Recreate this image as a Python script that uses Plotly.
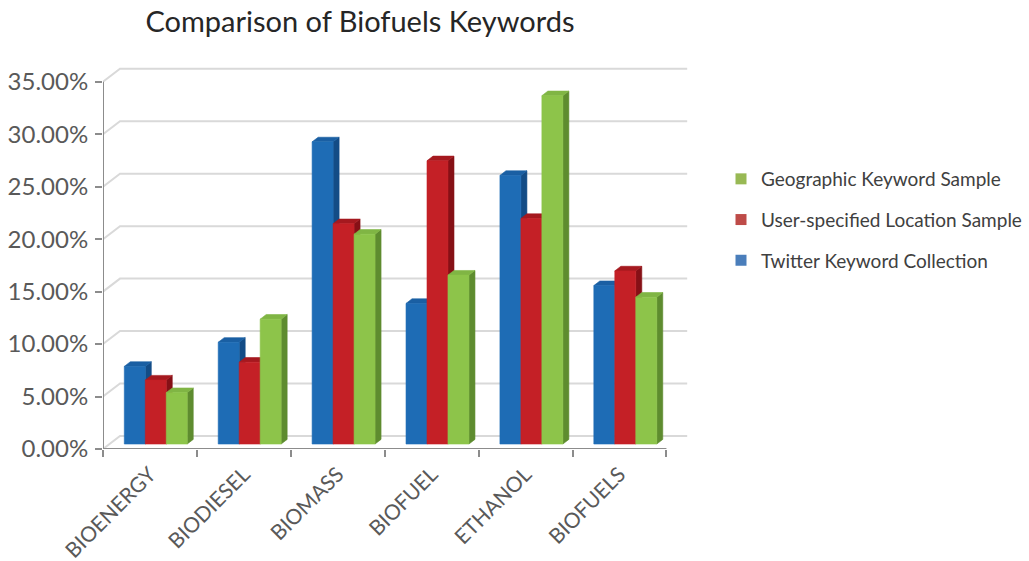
import plotly.graph_objects as go

# Keyword share per data collection (percent)
categories = ["BIOENERGY", "BIODIESEL", "BIOMASS", "BIOFUEL", "ETHANOL", "BIOFUELS"]
twitter_keyword = [7.4, 9.7, 28.8, 13.4, 25.6, 15.1]
user_location = [6.1, 7.8, 21.0, 27.0, 21.5, 16.5]
geographic_keyword = [4.9, 11.9, 20.0, 16.1, 33.2, 14.0]

series_names = ["Twitter Keyword Collection", "User-specified Location Sample", "Geographic Keyword Sample"]
y_ticks = [0, 5, 10, 15, 20, 25, 30, 35]

# face colours: front, top, side
palette = [
    ("#1e6cb5", "#1a5fa3", "#134c86"),
    ("#c42026", "#a5191f", "#861016"),
    ("#8dc44a", "#80b544", "#5e8c2f"),
]
legend_colors = ["#4a7ebb", "#be4b48", "#98b954"]

FONT = "Lato"
GREY = "#595959"

# oblique projection of the chart depth (category units, percent units)
WALL_DX, WALL_DY = 0.181, 1.24      # back wall offset
BAR_DX, BAR_DY = 0.062, 0.475       # bars sit part-way into the floor
SIDE_DX, SIDE_DY = 0.064, 0.44      # bar thickness in depth
BAR_W = 0.2234

n = len(categories)
fig = go.Figure()

# back wall gridlines with their diagonal run-in on the side wall
for v in y_ticks:
    fig.add_trace(go.Scatter(
        x=[-0.5, -0.5 + WALL_DX, n - 0.5 + WALL_DX + 0.04],
        y=[v, v + WALL_DY, v + WALL_DY],
        mode="lines", line=dict(color="#d9d9d9", width=2),
        hoverinfo="skip", showlegend=False))


def face(xs, ys, color):
    fig.add_trace(go.Scatter(
        x=xs + [xs[0]], y=ys + [ys[0]], mode="lines", fill="toself",
        fillcolor=color, line=dict(color=color, width=0.6),
        hoverinfo="skip", showlegend=False))


series = [twitter_keyword, user_location, geographic_keyword]
for i in range(n):
    for s, values in enumerate(series):
        front_c, top_c, side_c = palette[s]
        x0 = i + (s - 1.5) * BAR_W + BAR_DX
        x1 = x0 + BAR_W
        b = BAR_DY
        t = b + values[i]
        # side, top, then front so the neighbour on the right covers correctly
        face([x1, x1 + SIDE_DX, x1 + SIDE_DX, x1], [b, b + SIDE_DY, t + SIDE_DY, t], side_c)
        face([x0, x1, x1 + SIDE_DX, x0 + SIDE_DX], [t, t, t + SIDE_DY, t + SIDE_DY], top_c)
        face([x0, x1, x1, x0], [b, b, t, t], front_c)

# legend entries (listed top to bottom: green, red, blue)
for s in [2, 1, 0]:
    fig.add_trace(go.Scatter(
        x=[None], y=[None], mode="markers", name=series_names[s],
        legendgroup=series_names[s],
        marker=dict(symbol="square", size=11, color=legend_colors[s])))

axis_line = dict(color="#8c8c8c", width=2)
fig.add_shape(type="line", xref="x", yref="y", x0=-0.5, x1=-0.5, y0=0, y1=35, line=axis_line)
fig.add_shape(type="line", xref="x", yref="y", x0=-0.5, x1=n - 0.5, y0=0, y1=0, line=axis_line)

fig.update_layout(
    width=1029, height=561,
    margin=dict(l=103, r=339, t=65, b=112, autoexpand=False),
    paper_bgcolor="white", plot_bgcolor="white",
    font=dict(family=FONT, color=GREY),
    title=dict(text="Comparison of Biofuels Keywords", x=360 / 1029, xanchor="center",
               xref="container", y=1 - 22 / 561, yanchor="middle", yref="container",
               font=dict(family=FONT, size=29, color="#262626")),
    xaxis=dict(range=[-0.5, n - 0.5 + WALL_DX + 0.07], showgrid=False, zeroline=False,
               showline=False, tickvals=list(range(n)), ticktext=categories,
               tickangle=-45, ticks="", tickfont=dict(size=21, color=GREY),
               ticklabelstandoff=8, automargin=False,
               minor=dict(tickvals=[k - 0.5 for k in range(n + 1)], ticks="outside",
                          ticklen=7, tickwidth=2, tickcolor="#8c8c8c", showgrid=False)),
    yaxis=dict(range=[0, 36.6], showgrid=False, zeroline=False, showline=False,
               tickvals=y_ticks, ticktext=[f"{v:.2f}%" for v in y_ticks],
               ticks="outside", ticklen=7, tickwidth=2, tickcolor="#8c8c8c",
               ticklabelstandoff=2, automargin=False, tickfont=dict(size=24, color=GREY)),
    legend=dict(xref="container", yref="container", x=721 / 1029, y=1 - 160 / 561,
                xanchor="left", yanchor="top", traceorder="grouped", tracegroupgap=13,
                font=dict(family=FONT, size=19, color="#404040"), bgcolor="rgba(0,0,0,0)"),
    showlegend=True,
)

fig.write_html("out.html")
